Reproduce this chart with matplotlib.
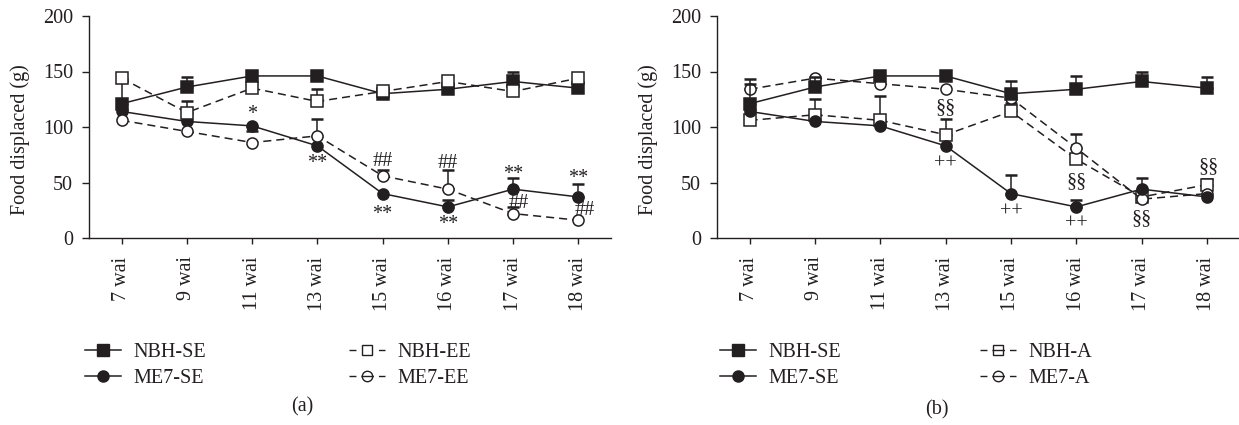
import matplotlib
matplotlib.use('Agg')
import matplotlib.pyplot as plt
from matplotlib.lines import Line2D
import numpy as np

plt.rcParams['font.family'] = ['Liberation Serif', 'DejaVu Serif']
plt.rcParams['lines.scale_dashes'] = False

# ---------------- data ----------------
weeks = ['7 wai', '9 wai', '11 wai', '13 wai', '15 wai', '16 wai', '17 wai', '18 wai']

# panel (a)
nbh_se = [121, 136, 146, 146, 130, 134, 141, 135]
nbh_se_up_a = [22, 9, 0, 0, 0, 0, 9, 0]
nbh_ee = [144, 113, 135, 123, 132, 141, 132, 144]
nbh_ee_up = [0, 10, 0, 11, 0, 0, 0, 0]
me7_se = [114, 105, 101, 83, 40, 28, 44, 37]
me7_se_up_a = [0, 0, 0, 0, 0, 6, 10, 12]
me7_se_dn_a = [0, 0, 5, 0, 0, 0, 0, 0]
me7_ee = [106, 96, 86, 92, 56, 44, 22, 16]
me7_ee_up = [0, 0, 0, 15, 5, 17, 6, 0]

# panel (b)
nbh_se_up_b = [18, 9, 0, 0, 11, 12, 9, 10]
me7_se_up_b = [0, 0, 0, 0, 17, 6, 10, 0]
nbh_a = [106, 111, 106, 93, 114, 71, 37, 48]
nbh_a_up = [0, 14, 22, 14, 8, 0, 0, 5]
me7_a = [134, 144, 139, 134, 126, 81, 35, 40]
me7_a_up = [9, 0, 0, 0, 0, 13, 0, 0]
zeros = [0] * 8

yticks = [0, 50, 100, 150, 200]

# significance marks: (index, baseline value, text)
marks_a = [(2, 107, '*'), (3, 63.5, '**'), (4, 65, '##'), (4, 17, '**'),
           (5, 63, '##'), (5, 8, '**'), (6, 53.5, '**'), (6.08, 27, '##'),
           (7, 50, '**'), (7.1, 21, '##')]
marks_b = [(3, 113.5, '§§'), (3, 62.5, '++'), (4, 19.5, '++'), (5, 46.7, '§§'),
           (5, 8.3, '++'), (6, 13, '§§'), (7.03, 60, '§§')]

# ---------------- figure ----------------
W, H = 1239, 425
fig = plt.figure(figsize=(W / 100, H / 100), dpi=100)
INK = '#231f20'
FS = 14.5


def px_rect(x0, x1, ytop, ybot):
    return [x0 / W, 1 - ybot / H, (x1 - x0) / W, (ybot - ytop) / H]


axA = fig.add_axes(px_rect(89, 611, 16, 238))
axB = fig.add_axes(px_rect(717, 1239.6, 16, 238))


def style(ax):
    ax.set_xlim(-0.5, 7.5)
    ax.set_ylim(0, 200)
    for s in ('top', 'right'):
        ax.spines[s].set_visible(False)
    for s in ('left', 'bottom'):
        ax.spines[s].set_linewidth(1.0)
        ax.spines[s].set_color(INK)
    ax.set_yticks(yticks)
    ax.set_xticks(range(len(weeks)))
    ax.set_xticklabels(weeks, rotation=90)
    ax.tick_params(axis='y', length=5, width=1.0, pad=6.5, labelsize=FS,
                   colors=INK)
    ax.tick_params(axis='x', length=4.3, width=1.0, pad=9, labelsize=FS,
                   colors=INK)
    ax.patch.set_alpha(0)


def series(ax, y, up, dn, marker, filled, dashed, z):
    x = np.arange(len(y))
    y = np.asarray(y, float)
    up = np.asarray(up, float)
    dn = np.asarray(dn, float)
    m = (up > 0) | (dn > 0)
    if m.any():
        ax.errorbar(x[m], y[m], yerr=[dn[m], up[m]], fmt='none', ecolor=INK,
                    elinewidth=1.1, capsize=4, capthick=1.8, zorder=z)
    kw = dict(color=INK, lw=1.1, marker=marker, ms=8,
              mfc=INK if filled else 'white', mec=INK, mew=1.1, zorder=z + 0.5)
    if dashed:
        ax.plot(x, y, ls='--', dashes=(5.8, 3.6), **kw)
    else:
        ax.plot(x, y, ls='-', **kw)


for ax in (axA, axB):
    style(ax)

# panel a: filled first, open on top
series(axA, nbh_se, nbh_se_up_a, zeros, 's', True, False, 2)
series(axA, me7_se, me7_se_up_a, me7_se_dn_a, 'o', True, False, 2)
series(axA, nbh_ee, nbh_ee_up, zeros, 's', False, True, 4)
series(axA, me7_ee, me7_ee_up, zeros, 'o', False, True, 4)

# panel b: open first, filled on top
series(axB, nbh_a, nbh_a_up, zeros, 's', False, True, 2)
series(axB, me7_a, me7_a_up, zeros, 'o', False, True, 2)
series(axB, nbh_se, nbh_se_up_b, zeros, 's', True, False, 4)
series(axB, me7_se, me7_se_up_b, zeros, 'o', True, False, 4)

for ax, marks in ((axA, marks_a), (axB, marks_b)):
    for xi, yv, t in marks:
        ax.text(xi, yv, t, ha='center', va='baseline', fontsize=FS, color=INK,
                zorder=10)

# y labels
fig.text(20 / W, 1 - 140 / H, 'Food displaced (g)', rotation=90, ha='center',
         va='center', fontsize=FS, color=INK)
fig.text(648 / W, 1 - 140 / H, 'Food displaced (g)', rotation=90, ha='center',
         va='center', fontsize=FS, color=INK)

# panel labels
fig.text(302 / W, 1 - 407 / H, '(a)', ha='center', va='center', fontsize=FS,
         color=INK)
fig.text(937 / W, 1 - 410 / H, '(b)', ha='center', va='center', fontsize=FS,
         color=INK)


# legends
def solid_handle(marker):
    return Line2D([], [], color=INK, lw=1.1, marker=marker, ms=8, mfc=INK,
                  mec=INK, mew=1.0)


def dash_handle(marker, through):
    if through:
        return Line2D([], [], color=INK, lw=1.0, marker=marker, ms=7.5,
                      mfc='none', mec=INK, mew=1.0, ls='--',
                      dashes=(5.0, 3.6, 9.0, 3.6))
    return Line2D([], [], color=INK, lw=1.0, marker=marker, ms=7.5,
                  mfc='white', mec=INK, mew=1.0, ls='--', dashes=(5.0, 16.2))


leg_kw = dict(loc='upper left', frameon=False, borderpad=0, borderaxespad=0,
              handlelength=1.8, handletextpad=0.6, labelspacing=0.32,
              fontsize=FS, labelcolor=INK)

ytop_leg = 1 - 343 / H
fig.legend([solid_handle('s'), solid_handle('o')], ['NBH-SE', 'ME7-SE'],
           bbox_to_anchor=(85 / W, ytop_leg), **leg_kw)
fig.legend([dash_handle('s', False), dash_handle('o', True)],
           ['NBH-EE', 'ME7-EE'], bbox_to_anchor=(349 / W, ytop_leg), **leg_kw)
fig.legend([solid_handle('s'), solid_handle('o')], ['NBH-SE', 'ME7-SE'],
           bbox_to_anchor=(720 / W, ytop_leg), **leg_kw)
fig.legend([dash_handle('s', True), dash_handle('o', True)],
           ['NBH-A', 'ME7-A'], bbox_to_anchor=(980 / W, ytop_leg), **leg_kw)

fig.savefig('out.png', dpi=100)
